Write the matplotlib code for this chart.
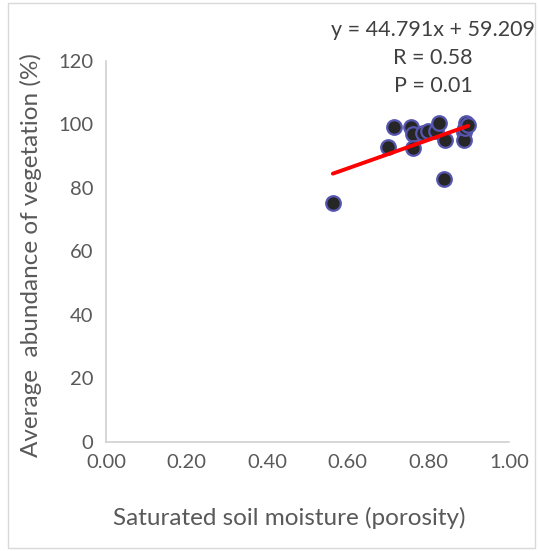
import numpy as np
import matplotlib.pyplot as plt

plt.rcParams['font.family'] = ['Lato', 'DejaVu Sans']

# porosity / vegetation abundance
porosity = [0.563, 0.699, 0.715, 0.758, 0.763, 0.763, 0.787, 0.800, 0.818, 0.826,
            0.841, 0.839, 0.889, 0.889, 0.890, 0.893, 0.899]
abundance = [75.1, 92.9, 99.0, 99.2, 96.9, 92.4, 97.1, 98.0, 98.0, 100.3,
             95.0, 82.6, 97.6, 95.0, 98.7, 100.3, 99.7]

slope = 44.791
intercept = 59.209
fit_text = ["y = 44.791x + 59.209", "R = 0.58", "P = 0.01"]

xticks = [0.0, 0.2, 0.4, 0.6, 0.8, 1.0]
yticks = [0, 20, 40, 60, 80, 100, 120]

fig = plt.figure(figsize=(5.38, 5.51), dpi=100)
ax = fig.add_axes([0.197, 0.198, 0.749, 0.692])

ax.scatter(porosity, abundance, s=110, c='#262626', edgecolors='#5656b0',
           linewidths=1.6, zorder=3)

# trend line over the data range
xl = np.array([min(porosity), max(porosity)])
ax.plot(xl, slope * xl + intercept, color='#ff0000', lw=2.8, zorder=4,
        solid_capstyle='round')

ax.set_xlim(0, 1.0)
ax.set_ylim(0, 120)
ax.set_xticks(xticks)
ax.set_xticklabels(['%.2f' % t for t in xticks])
ax.set_yticks(yticks)
ax.tick_params(length=0, labelsize=14.5, colors='#595959', pad=9)

for s in ['top', 'right']:
    ax.spines[s].set_visible(False)
for s in ['left', 'bottom']:
    ax.spines[s].set_color('#d0d0d0')
    ax.spines[s].set_linewidth(1.2)

ax.set_xlabel('Saturated soil moisture (porosity)', fontsize=17.5,
              color='#595959')
ax.xaxis.set_label_coords(0.455, -0.171)
ax.set_ylabel('Average  abundance of vegetation (%)', fontsize=17.5,
              color='#595959')
ax.yaxis.set_label_coords(-0.159, 0.49)

for i, t in enumerate(fit_text):
    fig.text(433 / 538, 1 - (30 + i * 28) / 551, t, fontsize=15.5,
             color='#404040', ha='center', va='center')

# outer chart frame
fig.patches.append(plt.Rectangle((0.015, 0.005), 0.98, 0.99, transform=fig.transFigure,
                                 fill=False, edgecolor='#d9d9d9', lw=1))

fig.savefig('out.png', dpi=100)
